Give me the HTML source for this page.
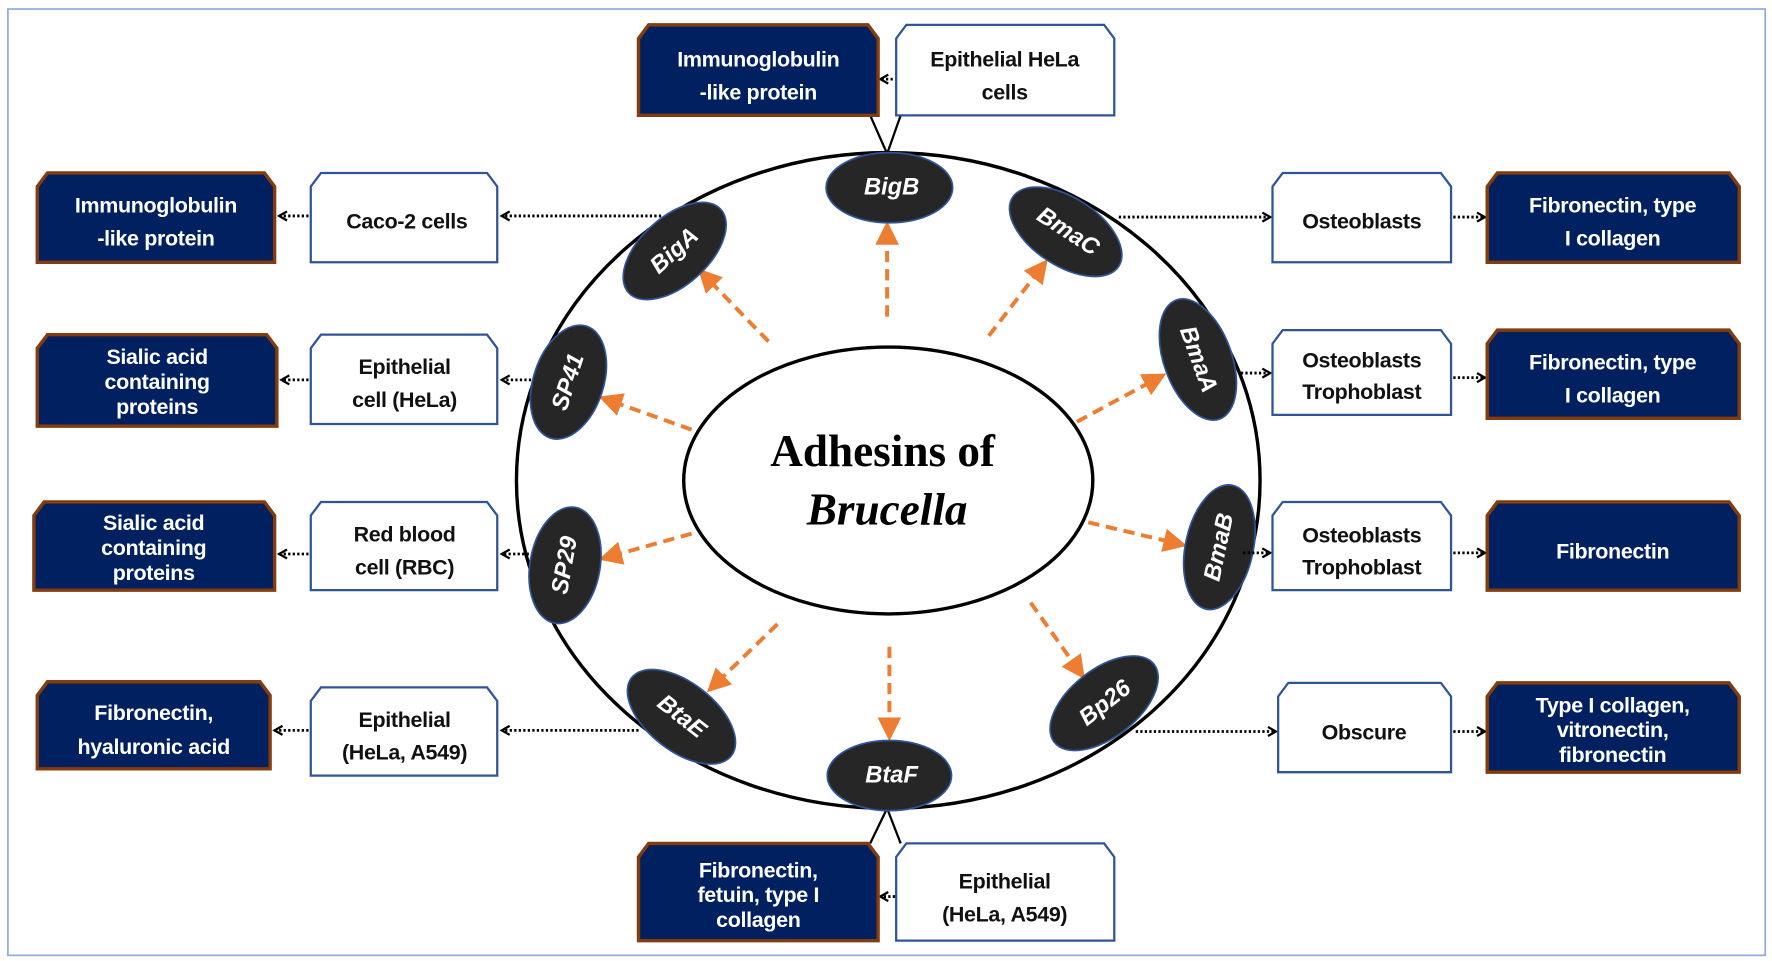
<!DOCTYPE html>
<html><head><meta charset="utf-8"><style>
html,body{margin:0;padding:0;background:#fff;}
svg{display:block}
.t{font-family:"Liberation Sans",sans-serif;font-weight:bold;font-size:19px;text-anchor:middle;letter-spacing:-0.3px}
.w{fill:#fff}
.k{fill:#111}
.e{font-family:"Liberation Sans",sans-serif;font-weight:bold;font-style:italic;font-size:21px;fill:#fff;text-anchor:middle;dominant-baseline:central}
</style></head><body>
<svg width="1772" height="961" viewBox="0 0 1568 850" preserveAspectRatio="none" xmlns="http://www.w3.org/2000/svg">
<defs>
<marker id="oa" markerWidth="6" markerHeight="6" refX="5" refY="3" orient="auto" markerUnits="strokeWidth"><path d="M0,0 L6,3 L0,6 z" fill="#ed7d31"/></marker>
<marker id="ka" markerWidth="10" markerHeight="10" refX="8" refY="5" orient="auto" markerUnits="userSpaceOnUse"><path d="M1,1 L8,5 L1,9" fill="none" stroke="#000" stroke-width="2"/></marker>
</defs>
<rect x="7" y="8" width="1555" height="837" fill="none" stroke="#8eaadb" stroke-width="1.5"/>
<!-- connector lines top/bottom -->
<g stroke="#000" stroke-width="2" fill="none">
<path d="M770,102 L785,136 L797,102"/>
<path d="M770,746 L785,715 L797,746"/>
</g>
<ellipse cx="786" cy="425" rx="329" ry="290" fill="none" stroke="#000" stroke-width="3"/>
<ellipse cx="786" cy="425" rx="181" ry="118" fill="#fff" stroke="#000" stroke-width="3"/>
<text x="781" y="412" font-family="Liberation Serif,serif" font-weight="bold" font-size="40" text-anchor="middle">Adhesins of</text>
<text x="785" y="464" font-family="Liberation Serif,serif" font-weight="bold" font-style="italic" font-size="40" text-anchor="middle">Brucella</text>
<!-- orange arrows -->
<g stroke="#ed7d31" stroke-width="3.5" stroke-dasharray="10,6" fill="none" marker-end="url(#oa)">
<line x1="785" y1="280" x2="785" y2="199"/>
<line x1="875" y1="297" x2="925" y2="232"/>
<line x1="953" y1="373" x2="1029" y2="332"/>
<line x1="963" y1="462" x2="1047" y2="482"/>
<line x1="912" y1="533" x2="958" y2="598"/>
<line x1="787" y1="572" x2="787" y2="652"/>
<line x1="688" y1="552" x2="628" y2="610"/>
<line x1="612" y1="472" x2="533" y2="494"/>
<line x1="612" y1="380" x2="533" y2="352"/>
<line x1="680" y1="302" x2="620" y2="240"/>
</g>
<!-- small ellipses -->
<g fill="#262626" stroke="#2f5597" stroke-width="1.5">
<ellipse cx="787" cy="166" rx="56" ry="31"/>
<ellipse cx="0" cy="0" rx="56" ry="30" transform="translate(943,205) rotate(33)"/>
<ellipse cx="0" cy="0" rx="56" ry="30" transform="translate(1060,318) rotate(70)"/>
<ellipse cx="0" cy="0" rx="56" ry="30" transform="translate(1079,484) rotate(-78)"/>
<ellipse cx="0" cy="0" rx="56" ry="30" transform="translate(977,622) rotate(-38)"/>
<ellipse cx="787" cy="686" rx="55" ry="31"/>
<ellipse cx="0" cy="0" rx="56" ry="30" transform="translate(603,634) rotate(38)"/>
<ellipse cx="0" cy="0" rx="52" ry="31" transform="translate(500,500) rotate(-80)"/>
<ellipse cx="0" cy="0" rx="52" ry="31" transform="translate(503,338) rotate(-72)"/>
<ellipse cx="0" cy="0" rx="55" ry="30" transform="translate(597,222) rotate(-42)"/>
</g>
<text class="e" x="789" y="166">BigB</text>
<text class="e" transform="translate(945,205) rotate(33)">BmaC</text>
<text class="e" transform="translate(1060,318) rotate(70)">BmaA</text>
<text class="e" transform="translate(1079,484) rotate(-78)">BmaB</text>
<text class="e" transform="translate(978,622) rotate(-38)">Bp26</text>
<text class="e" x="789" y="686">BtaF</text>
<text class="e" transform="translate(603,634) rotate(38)">BtaE</text>
<text class="e" transform="translate(500,500) rotate(-80)">SP29</text>
<text class="e" transform="translate(503,338) rotate(-72)">SP41</text>
<text class="e" transform="translate(597,222) rotate(-42)">BigA</text>
<!-- dotted connectors -->
<g stroke="#000" stroke-width="2.5" stroke-dasharray="2,2" fill="none" marker-end="url(#ka)">
<line x1="585" y1="191" x2="444" y2="191"/>
<line x1="273" y1="191" x2="247" y2="191"/>
<line x1="470" y1="336" x2="444" y2="336"/>
<line x1="273" y1="336" x2="249" y2="336"/>
<line x1="468" y1="490" x2="444" y2="490"/>
<line x1="273" y1="490" x2="247" y2="490"/>
<line x1="565" y1="646" x2="444" y2="646"/>
<line x1="273" y1="646" x2="243" y2="646"/>
<line x1="990" y1="192" x2="1124" y2="192"/>
<line x1="1286" y1="192" x2="1314" y2="192"/>
<line x1="1098" y1="330" x2="1124" y2="330"/>
<line x1="1286" y1="334" x2="1314" y2="334"/>
<line x1="1100" y1="489" x2="1124" y2="489"/>
<line x1="1286" y1="489" x2="1314" y2="489"/>
<line x1="1005" y1="647" x2="1129" y2="647"/>
<line x1="1286" y1="647" x2="1314" y2="647"/>
<line x1="798" y1="70" x2="779" y2="70"/>
<line x1="800" y1="793" x2="779" y2="793"/>
</g>
<!-- boxes: dark -->
<g fill="#002060" stroke="#843c0c" stroke-width="3">
<path d="M565,102 V34 L574,22 H768 L777,34 V102 Z"/>
<path d="M565,832 V758 L574,746 H768 L777,758 V832 Z"/>
<path d="M33,232 V165 L42,153 H234 L243,165 V232 Z"/>
<path d="M33,377 V308 L42,296 H236 L245,308 V377 Z"/>
<path d="M30,522 V456 L39,444 H234 L243,456 V522 Z"/>
<path d="M33,680 V615 L42,603 H230 L239,615 V680 Z"/>
<path d="M1316,232 V165 L1325,153 H1530 L1539,165 V232 Z"/>
<path d="M1316,370 V304 L1325,292 H1530 L1539,304 V370 Z"/>
<path d="M1316,522 V456 L1325,444 H1530 L1539,456 V522 Z"/>
<path d="M1316,683 V616 L1325,604 H1530 L1539,616 V683 Z"/>
</g>
<!-- boxes: white -->
<g fill="#fff" stroke="#2f5597" stroke-width="2">
<path d="M793,102 V34 L802,22 H977 L986,34 V102 Z"/>
<path d="M793,832 V758 L802,746 H977 L986,758 V832 Z"/>
<path d="M275,232 V165 L284,153 H431 L440,165 V232 Z"/>
<path d="M275,375 V308 L284,296 H431 L440,308 V375 Z"/>
<path d="M275,522 V456 L284,444 H431 L440,456 V522 Z"/>
<path d="M275,686 V620 L284,608 H431 L440,620 V686 Z"/>
<path d="M1126,232 V165 L1135,153 H1275 L1284,165 V232 Z"/>
<path d="M1126,367 V304 L1135,292 H1275 L1284,304 V367 Z"/>
<path d="M1126,522 V456 L1135,444 H1275 L1284,456 V522 Z"/>
<path d="M1131,683 V616 L1140,604 H1275 L1284,616 V683 Z"/>
</g>
<!-- texts -->
<g class="t w">
<text x="671" y="59">Immunoglobulin</text><text x="671" y="88">-like protein</text>
<text x="671" y="776">Fibronectin,</text><text x="671" y="798">fetuin, type I</text><text x="671" y="820">collagen</text>
<text x="138" y="188">Immunoglobulin</text><text x="138" y="217">-like protein</text>
<text x="139" y="322">Sialic acid</text><text x="139" y="344">containing</text><text x="139" y="366">proteins</text>
<text x="136" y="469">Sialic acid</text><text x="136" y="491">containing</text><text x="136" y="513">proteins</text>
<text x="136" y="637">Fibronectin,</text><text x="136" y="667">hyaluronic acid</text>
<text x="1427" y="188">Fibronectin, type</text><text x="1427" y="217">I collagen</text>
<text x="1427" y="327">Fibronectin, type</text><text x="1427" y="356">I collagen</text>
<text x="1427" y="494">Fibronectin</text>
<text x="1427" y="630">Type I collagen,</text><text x="1427" y="652">vitronectin,</text><text x="1427" y="674">fibronectin</text>
</g>
<g class="t k">
<text x="889" y="59">Epithelial HeLa</text><text x="889" y="88">cells</text>
<text x="889" y="786">Epithelial</text><text x="889" y="815">(HeLa, A549)</text>
<text x="360" y="202">Caco-2 cells</text>
<text x="358" y="331">Epithelial</text><text x="358" y="360">cell (HeLa)</text>
<text x="358" y="479">Red blood</text><text x="358" y="508">cell (RBC)</text>
<text x="358" y="643">Epithelial</text><text x="358" y="672">(HeLa, A549)</text>
<text x="1205" y="202">Osteoblasts</text>
<text x="1205" y="325">Osteoblasts</text><text x="1205" y="353">Trophoblast</text>
<text x="1205" y="480">Osteoblasts</text><text x="1205" y="508">Trophoblast</text>
<text x="1207" y="654">Obscure</text>
</g>
</svg>
</body></html>
